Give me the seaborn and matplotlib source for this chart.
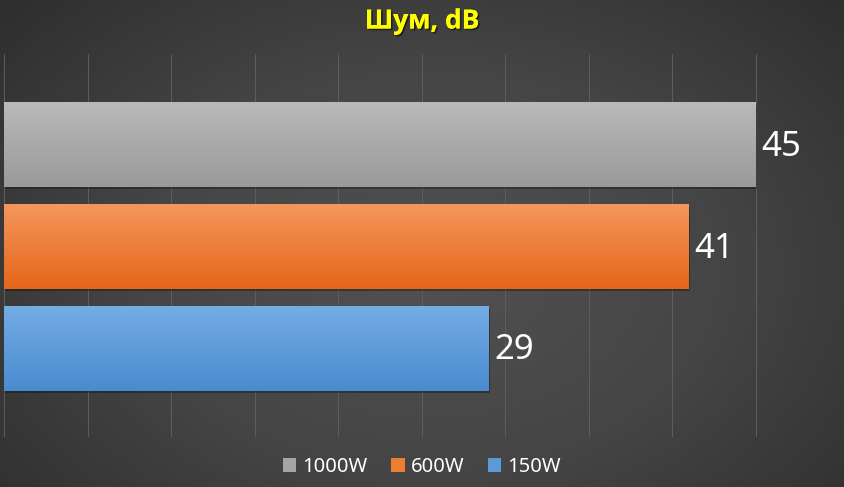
import numpy as np
import matplotlib
matplotlib.use('Agg')
import matplotlib.pyplot as plt
import matplotlib.patheffects as pe
from matplotlib.patches import Rectangle
from matplotlib.colors import LinearSegmentedColormap, to_rgb
import seaborn as sns
import pandas as pd

# ---- data ----
series = ['1000W', '600W', '150W']
values = [45, 41, 29]
title = 'Шум, dB'
grid_ticks = [0, 5, 10, 15, 20, 25, 30, 35, 40, 45, 50]
legend_colors = ['#a5a5a5', '#ed7d31', '#5b9bd5']
colors_top = ['#b9b9b9', '#f4975c', '#74ace4']
colors_bot = ['#9a9a9a', '#e6651a', '#4a8bd0']

sns.set_theme(style='dark')
plt.rcParams['font.family'] = ['Noto Sans', 'DejaVu Sans']

W, H = 844, 487
fig = plt.figure(figsize=(W / 100, H / 100), dpi=100)

# radial background
bg = fig.add_axes([0, 0, 1, 1], zorder=0)
yy, xx = np.mgrid[0:H, 0:W]
r = np.sqrt(((xx - 430) / 620.0) ** 2 + ((yy - 270) / 430.0) ** 2)
r = np.clip(r, 0, 1)
bg_cmap = LinearSegmentedColormap.from_list('bg', ['#515151', '#454545', '#2e2e2e'])
bg.imshow(r, cmap=bg_cmap, aspect='auto', extent=(0, W, H, 0), interpolation='bilinear')
bg.set_xlim(0, W)
bg.set_ylim(H, 0)
bg.axis('off')

# main axes
ax = fig.add_axes([4 / W, 50 / H, 835 / W, 383 / H], zorder=1)
ax.patch.set_alpha(0)
df = pd.DataFrame({'series': series, 'value': values})
sns.barplot(data=df, x='value', y='series', hue='series', palette=legend_colors,
            orient='h', width=0.83, ax=ax, legend=False, saturation=1)

xlim = (0, 50)
ylim = (2.87, -0.89)

bars = list(ax.patches)
for i, p in enumerate(bars):
    x0, y0 = p.get_x(), p.get_y()
    w, h = p.get_width(), p.get_height()
    # shadow
    sh = Rectangle((x0 + 0.08, y0 + 0.025), w, h, facecolor='black', alpha=0.3,
                   edgecolor='none', zorder=2)
    ax.add_patch(sh)
    p.set_zorder(3)
    p.set_edgecolor('none')
    top = np.array(to_rgb(colors_top[i]))
    bot = np.array(to_rgb(colors_bot[i]))
    grad = np.linspace(0, 1, 64)[:, None, None]
    img = top * (1 - grad) + bot * grad
    img = np.repeat(img, 2, axis=1)
    im = ax.imshow(img, extent=(x0, x0 + w, y0 + h, y0), aspect='auto',
                   interpolation='bilinear', zorder=4)
    im.set_clip_path(p)
    ax.text(values[i] + 0.35, i + 0.02, str(values[i]), va='center', ha='left',
            color='white', fontsize=25, zorder=5)

ax.set_xlim(*xlim)
ax.set_ylim(*ylim)
ax.set_xticks(grid_ticks)
ax.set_xticklabels([])
ax.set_yticks([])
ax.set_xlabel('')
ax.set_ylabel('')
ax.tick_params(length=0)
ax.grid(axis='x', color='#5e5e5e', lw=0.7)
ax.grid(axis='y', visible=False)
ax.set_axisbelow(True)
for s in ax.spines.values():
    s.set_visible(False)

# title
fig.text(0.5, 1 - 21 / H, title, ha='center', va='center', color='#ffff00',
         fontsize=19, fontweight='bold', family=['Open Sans', 'DejaVu Sans'],
         path_effects=[pe.withSimplePatchShadow(offset=(1.2, -1.2), shadow_rgbFace='black', alpha=0.5),
                       pe.Normal()])

# legend
handles = [Rectangle((0, 0), 1, 1, facecolor=c, edgecolor='none') for c in legend_colors]
leg = fig.legend(handles, series, loc='center', bbox_to_anchor=(0.5, 1 - 467 / H), ncol=3,
                 frameon=False, fontsize=14.5, handlelength=0.65, handleheight=0.65,
                 handletextpad=0.3, columnspacing=1.2)
for t in leg.get_texts():
    t.set_color('white')

fig.savefig('out.png', dpi=100)
